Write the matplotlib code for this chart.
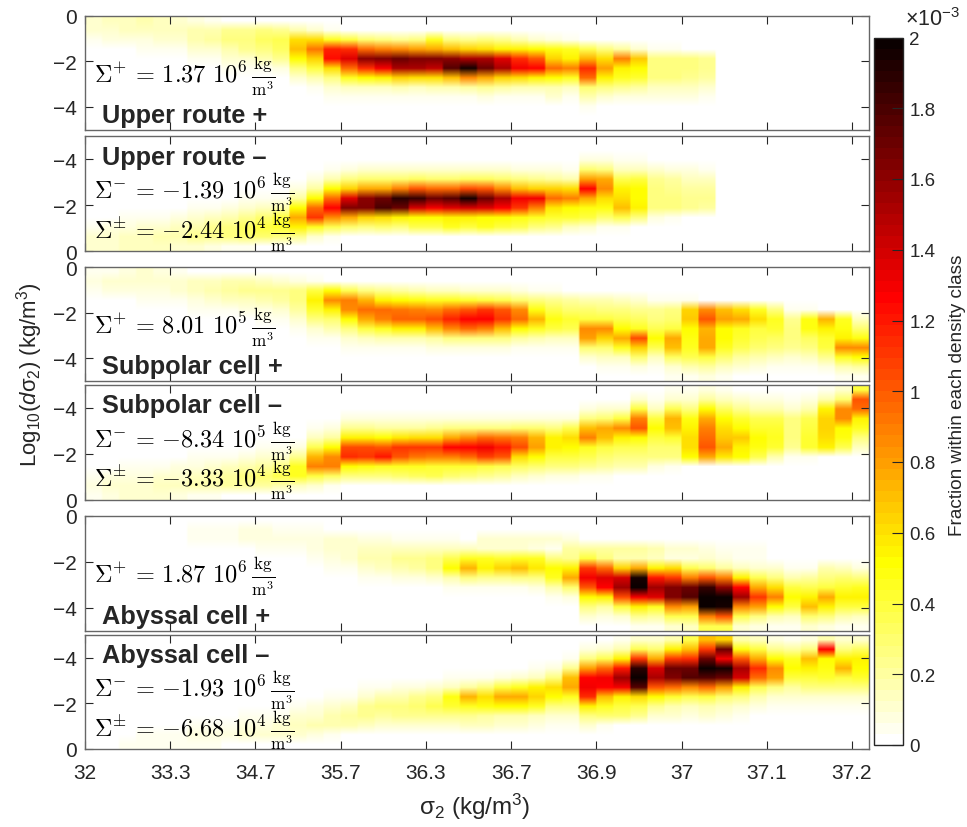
# -*- coding: utf-8 -*-
"""
Six stacked density-class histograms of d(sigma2) against sigma2
"""

import numpy as np
import matplotlib
matplotlib.use("Agg")
import matplotlib.pyplot as plt

# ===== 1. Data =====
# One list per density class (column), one number per Log10 bin from 0 down to -5,
# units of 1e-5. Short lists are zero for the remaining bins.
upper_plus = [
    [12,10,6,2,1], [14,12,7,3,1], [15,13,8,3,1], [16,14,9,4,2], [14,14,10,5,2], [10,14,12,6,3,1],
    [8,18,18,10,6,2], [5,18,20,12,6,2,1], [3,22,26,18,10,4,1], [2,22,28,22,12,5,2], [1,25,32,26,16,6,2],
    [1,22,36,32,22,8,3,1], [0,18,62,70,50,25,10,3,1], [0,10,60,92,65,40,16,6,2], [0,5,45,118,122,60,28,10,4,1],
    [0,3,40,115,135,95,45,14,5,1], [0,2,30,95,160,115,50,14,5,2], [0,1,25,90,165,130,55,15,5,2],
    [0,1,22,85,170,150,65,16,6,2], [0,0,25,80,165,150,60,14,5,2], [0,0,45,75,165,145,60,16,5,2],
    [0,0,25,70,160,175,70,18,6,2], [0,0,22,65,150,195,85,20,6,2], [0,0,25,60,150,170,75,22,7,2],
    [0,0,22,55,135,150,65,20,6,2], [0,0,18,55,115,130,60,18,6,2], [0,0,12,50,100,125,55,18,6,2],
    [0,0,8,48,65,95,50,18,12,2], [0,0,6,45,55,90,45,15,6,2], [0,0,3,35,72,115,95,30,18,4],
    [0,0,2,28,60,80,55,25,10,3,1], [0,0,1,20,88,55,45,22,8,3,1], [0,0,1,12,68,52,42,20,8,3,1],
    [0,0,0,5,28,28,25,15,8,3,1], [0,0,0,4,28,28,25,15,8,3,1], [0,0,0,3,25,25,22,14,7,2,1],
    [0,0,0,2,22,22,20,12,6,2,1], [0,0,0,0,2,3,3,2,1],
]
upper_minus = [
    [10,10,6,2], [12,12,7,3], [14,14,9,4,1], [15,15,10,5,2], [14,16,12,6,2], [12,18,14,8,3,1],
    [10,22,18,10,4,1], [8,24,22,14,6,2], [5,28,28,18,8,3,1], [4,30,32,22,10,4,1], [2,30,38,30,14,5,2],
    [1,28,42,38,18,6,2,1], [1,22,55,78,50,20,8,3,1], [0,12,45,110,95,50,20,8,3,1], [0,6,35,85,125,95,50,18,6,2],
    [0,3,30,75,165,135,65,25,8,3], [0,1,28,65,165,160,75,30,10,3], [0,1,30,60,180,170,75,30,10,3],
    [0,0,28,55,170,190,90,30,10,3], [0,0,35,52,140,185,100,32,10,3], [0,0,35,52,130,170,95,30,10,3],
    [0,0,45,55,135,175,95,30,10,3], [0,0,40,55,140,195,105,32,10,3], [0,0,45,52,135,170,100,32,10,3],
    [0,0,40,50,125,150,85,30,10,3], [0,0,35,48,110,130,70,25,8,2], [0,0,28,45,90,130,65,22,7,2],
    [0,0,22,42,58,95,65,20,7,2], [0,0,15,42,52,90,60,18,6,2], [0,0,10,40,48,75,125,80,30,8,2],
    [0,0,6,30,48,60,85,75,25,8,2], [0,0,4,35,70,60,55,35,15,5,1], [0,0,2,28,55,52,52,40,15,5,1],
    [0,0,0,8,28,28,28,22,10,3,1], [0,0,0,5,25,25,24,20,8,3,1], [0,0,0,3,22,22,20,15,7,2,1],
    [0,0,0,1,20,22,20,14,6,2], [0,0,0,0,2,3,3,2,1],
]
subpolar_plus = [
    [5,8,6,2], [6,10,7,3,1], [8,12,8,3,1], [10,12,9,4,1], [8,12,9,5,2], [6,12,10,5,2],
    [3,14,14,8,4,1], [2,15,16,10,5,2], [1,16,20,14,6,3,1], [1,16,22,15,8,3,1], [0,15,22,18,9,4,1],
    [0,12,22,20,12,5,2], [0,8,28,28,20,10,5,2], [0,5,40,55,42,25,10,4,1], [0,2,50,85,55,30,18,6,2],
    [0,2,35,90,85,50,25,10,4], [0,1,25,72,95,75,38,15,5], [0,0,22,55,95,90,45,16,5],
    [0,0,20,50,92,98,55,18,6], [0,0,18,48,90,98,55,18,6], [0,0,15,45,85,105,70,20,7],
    [0,0,15,45,95,118,85,25,8], [0,0,12,42,100,125,95,28,8], [0,0,10,38,112,125,88,26,7],
    [0,0,10,35,100,112,70,25,7], [0,0,8,30,85,95,50,20,6], [0,0,6,25,48,72,45,18,5],
    [0,0,4,22,35,48,38,15,4], [0,0,3,20,30,42,35,15,4], [0,0,3,18,30,40,85,80,30,12,3],
    [0,0,2,16,28,38,85,65,30,15,4], [0,0,1,14,26,35,50,78,45,15,4], [0,0,0,12,22,32,45,105,65,30,8,2],
    [0,0,0,6,22,28,35,50,35,15,5], [0,0,0,5,25,30,40,78,70,32,12,4], [0,0,0,4,65,68,52,48,45,35,18,6],
    [0,0,0,3,85,100,72,78,78,40,20,8], [0,0,0,2,70,80,50,50,45,30,15,5], [0,0,0,1,60,75,45,42,35,20,10,3],
    [0,0,0,0,45,60,40,35,30,18,8,2], [0,0,0,0,25,45,42,32,28,15,6,2], [0,0,0,0,5,22,25,25,22,12,5,1],
    [0,0,0,0,6,48,48,32,25,15,6,2], [0,0,0,0,3,72,55,42,40,22,8,3], [0,0,0,0,1,45,48,55,85,45,18,5],
    [0,0,0,0,0,15,30,48,85,50,20,6],
]
subpolar_minus = [
    [6,8,6,2], [8,10,7,3,1], [10,12,8,4,1], [10,12,9,5,2], [10,14,10,6,2], [8,14,12,7,3,1],
    [6,18,14,9,4,1], [4,18,18,11,5,2], [3,20,20,14,6,2,1], [2,20,25,16,8,3,1], [1,20,30,20,10,4,1],
    [1,18,35,25,12,4,2], [0,15,45,45,22,8,3,1], [0,10,40,88,72,35,14,5,2], [0,5,32,90,85,52,20,7,2],
    [0,3,28,50,115,105,55,22,7,2], [0,2,28,48,112,105,55,22,7,2], [0,1,28,45,120,100,52,20,7,2],
    [0,1,30,45,100,110,58,20,7,2], [0,0,32,45,92,110,60,20,7,2], [0,0,35,42,90,110,62,22,7,2],
    [0,0,30,42,88,125,75,25,8,2], [0,0,28,42,95,125,85,28,8,3], [0,0,22,38,108,130,95,28,8,2],
    [0,0,20,35,100,120,92,28,8,2], [0,0,15,32,60,105,90,30,8,2], [0,0,10,30,50,80,72,30,8,2],
    [0,0,8,28,40,55,55,28,8,2], [0,0,7,25,38,50,60,35,8,2], [0,0,6,22,35,45,88,70,28,8,2],
    [0,0,4,20,30,40,70,75,30,10,3], [0,0,2,18,28,35,55,85,40,12,3], [0,0,1,18,25,35,50,100,90,38,12,3],
    [0,0,0,8,25,30,40,50,38,15,6,2], [0,0,0,5,25,30,42,70,72,35,12,4], [0,0,0,3,50,60,60,55,48,28,12,4],
    [0,0,0,3,75,100,95,90,75,50,20,8], [0,0,0,2,58,75,68,62,50,32,14,5], [0,0,0,1,50,55,68,50,42,22,10,3],
    [0,0,0,0,35,48,50,42,35,18,7,2], [0,0,0,0,18,42,45,42,35,18,7,2], [0,0,0,0,6,22,25,25,25,12,5,1],
    [0,0,0,0,4,42,42,40,35,18,8,2], [0,0,0,0,3,55,62,65,65,55,18,5], [0,0,0,0,1,35,48,50,85,85,30,10],
    [0,0,0,0,0,15,28,45,55,95,100,40],
]
abyssal_plus = [
    [], [], [], [], [], [], [0,4,4,2], [0,5,5,2], [0,6,6,3,1], [0,7,7,3,1], [0,7,8,4,2],
    [0,6,8,5,2,1], [0,5,8,6,3,1], [0,4,9,7,4,2], [0,2,10,10,8,5,2], [0,1,10,12,10,6,3],
    [0,1,9,14,16,10,4,1], [0,1,8,15,18,14,6,2], [0,0,6,15,22,18,8,2], [0,0,5,14,24,20,8,2],
    [0,0,4,14,28,25,10,3], [0,0,4,14,35,50,18,4], [0,0,3,14,45,72,25,6], [0,0,12,12,45,55,22,6],
    [0,0,12,10,42,65,22,5], [0,0,12,10,45,70,25,6], [0,0,12,8,45,58,28,8,2], [0,0,12,5,28,50,45,18,6,2],
    [0,0,8,20,22,55,75,30,8,3], [0,0,3,20,40,110,130,100,50,25,10,3], [0,0,2,20,25,95,135,125,55,20,8,2],
    [0,0,1,20,18,65,140,155,105,40,12,3], [0,0,1,20,18,75,195,205,130,55,22,6], [0,0,0,18,15,55,120,155,135,45,20,6],
    [0,0,0,12,8,60,110,165,165,85,35,12], [0,0,0,10,8,35,90,170,175,80,35,14], [0,0,0,8,10,30,100,185,210,200,90,35],
    [0,0,0,6,8,20,90,160,205,195,100,35], [0,0,0,5,6,15,55,125,155,85,35,10], [0,0,0,4,5,12,35,75,110,80,25,8],
    [0,0,0,2,3,10,28,60,90,50,18,6], [0,0,0,1,2,5,18,38,50,40,15,4], [0,0,0,1,2,5,20,35,55,70,30,10],
    [0,0,0,1,3,18,25,38,78,55,25,8], [0,0,0,0,2,15,30,42,55,40,18,6], [0,0,0,0,0,8,25,45,55,38,15,5],
]
abyssal_minus = [
    [], [3,2], [4,3,1], [5,4,2], [5,5,2], [6,6,3,1], [5,7,4,2], [4,8,5,2], [3,8,6,3,1], [3,10,7,4,1],
    [2,10,8,5,2], [2,12,10,6,3,1], [1,10,14,10,5,2], [1,8,16,12,8,3,1], [1,5,18,16,10,4,1], [0,3,18,20,14,6,2],
    [0,2,15,22,22,12,4,1], [0,2,12,20,25,16,6,2], [0,1,12,22,28,18,8,2], [0,1,12,24,30,22,9,3], [0,1,12,24,35,25,10,3],
    [0,1,12,24,42,48,14,4], [0,0,15,24,45,72,20,5], [0,0,14,20,48,60,28,6], [0,0,12,18,50,75,40,8,2],
    [0,0,10,16,52,78,45,10,3], [0,0,8,14,45,65,55,15,4], [0,0,6,12,28,52,60,28,8,2], [0,0,4,10,25,45,75,70,22,6,2],
    [0,0,10,25,55,115,130,125,80,25,8,2], [0,0,5,30,45,70,125,130,95,35,10,3], [0,0,3,30,38,55,130,155,120,55,18,5],
    [0,0,3,22,35,60,175,205,190,110,35,10], [0,0,0,12,22,50,100,150,140,75,30,10], [0,0,0,10,18,42,95,165,170,110,55,18],
    [0,0,0,8,15,35,85,175,170,115,70,35], [0,0,0,12,18,40,95,175,210,170,110,70], [0,0,0,8,15,30,80,170,195,130,170,65],
    [0,0,0,6,12,25,55,140,150,100,48,18], [0,0,0,3,8,18,35,95,115,75,40,15], [0,0,0,2,6,12,28,80,85,50,22,8],
    [0,0,0,0,4,10,20,38,50,45,20,6], [0,0,0,0,4,12,25,38,55,70,28,8], [0,0,0,0,4,10,25,42,48,50,125,18],
    [0,0,0,0,5,12,28,40,72,55,25,10], [0,0,0,0,4,10,25,42,50,55,32,12],
]

panel_titles = ["Upper route +", "Upper route –", "Subpolar cell +",
                "Subpolar cell –", "Abyssal cell +", "Abyssal cell –"]
sigma_plus = [r"\Sigma^{+}\,=\,1.37\ 10^{6}", r"\Sigma^{-}\,=\,{-}1.39\ 10^{6}",
              r"\Sigma^{+}\,=\,8.01\ 10^{5}", r"\Sigma^{-}\,=\,{-}8.34\ 10^{5}",
              r"\Sigma^{+}\,=\,1.87\ 10^{6}", r"\Sigma^{-}\,=\,{-}1.93\ 10^{6}"]
sigma_both = [None, r"\Sigma^{\pm}\,=\,{-}2.44\ 10^{4}", None,
              r"\Sigma^{\pm}\,=\,{-}3.33\ 10^{4}", None, r"\Sigma^{\pm}\,=\,{-}6.68\ 10^{4}"]

x_tick_labels = ["32", "33.3", "34.7", "35.7", "36.3", "36.7", "36.9", "37", "37.1", "37.2"]
cbar_ticks = [0, 20, 40, 60, 80, 100, 120, 140, 160, 180, 200]
cbar_labels = ["0", "0.2", "0.4", "0.6", "0.8", "1", "1.2", "1.4", "1.6", "1.8", "2"]

# ===== 2. Figure style =====
W, H = 967, 828
GRAY = "#262626"
plt.rcParams.update({
    "font.family": "Liberation Sans",
    "font.size": 15,
    "mathtext.fontset": "custom",
    "mathtext.rm": "Liberation Sans",
    "mathtext.it": "Liberation Sans:italic",
    "mathtext.bf": "Liberation Sans:bold",
    "mathtext.default": "it",
    "text.color": GRAY,
    "xtick.color": GRAY,
    "ytick.color": GRAY,
})


def px_axes(left, top, right, bottom):
    return fig.add_axes([left / W, 1 - bottom / H, (right - left) / W, (bottom - top) / H])


def to_grid(cols):
    """Columns to a rows x columns array, padded with zero bins."""
    cols = cols + [[]] * (46 - len(cols))
    return np.array([c + [0] * (12 - len(c)) for c in cols], dtype=float).T


# ===== 3. Panels =====
fig = plt.figure(figsize=(W / 100, H / 100), dpi=100)
cmap = plt.get_cmap("hot_r", 64)

panel_data = [upper_plus, upper_minus, subpolar_plus, subpolar_minus, abyssal_plus, abyssal_minus]
panel_edges = [(16.7, 130.7), (137, 252), (268, 382), (386, 500.7), (516.7, 632), (636, 749.7)]
title_y = [116.5, 157.5, 367.5, 406.5, 617.5, 656.5]
sigma_y = [76.5, 192.5, 327.5, 441.5, 576.5, 690.5]
both_y = [None, 232.5, None, 480.5, None, 730.5]

for i, (cols, (top, bottom)) in enumerate(zip(panel_data, panel_edges)):
    ax = px_axes(85, top, 869, bottom)
    # repeat along x so that smoothing only acts between the Log10 bins
    im = ax.imshow(np.repeat(to_grid(cols), 8, axis=1), cmap=cmap, vmin=0, vmax=200, aspect="auto",
                   origin="upper", extent=(0, 46, -5, 0), interpolation="bilinear")
    ax.set_ylim((-5, 0) if i % 2 == 0 else (0, -5))
    ax.set_xlim(0, 46)
    ax.set_yticks([-4, -2, 0])
    ax.set_xticks(range(0, 46, 5))
    if i == 5:
        ax.set_xticklabels(x_tick_labels)
    else:
        ax.set_xticklabels([])
    ax.tick_params(direction="in", length=6, width=0.8, top=True, right=True, labelsize=15, pad=6)
    ax.tick_params(axis="x", pad=10)
    for spine in ax.spines.values():
        spine.set_color("#666666")
        spine.set_linewidth(1.0)

    fig.text(102 / W, 1 - title_y[i] / H, panel_titles[i], fontsize=18.3, fontweight="bold", va="center")
    frac = r"\,\frac{\mathrm{kg}}{\mathrm{m}^{3}}$"
    fig.text(94 / W, 1 - sigma_y[i] / H, "$" + sigma_plus[i] + frac, fontsize=17.5, va="center",
             color="black", math_fontfamily="cm")
    if sigma_both[i]:
        fig.text(94 / W, 1 - both_y[i] / H, "$" + sigma_both[i] + frac, fontsize=17.5, va="center",
                 color="black", math_fontfamily="cm")

# ===== 4. Colorbar and axis labels =====
cax = px_axes(873.5, 38.5, 902.5, 746)
cbar = fig.colorbar(im, cax=cax)
cbar.set_ticks(cbar_ticks)
cbar.set_ticklabels(cbar_labels)
cbar.ax.tick_params(direction="in", length=8, width=0.8, labelsize=13.5, pad=5)
cbar.outline.set_edgecolor(GRAY)
cbar.outline.set_linewidth(1.0)

fig.text(905 / W, 1 - 20 / H, "×10$^{-3}$", fontsize=15.5, va="center")
fig.text(957 / W, 1 - 395 / H, "Fraction within each density class", fontsize=13.7,
         rotation=90, ha="center", va="center")
fig.text(30 / W, 1 - 375 / H, r"Log$_{10}$($\mathit{d}$σ$_2$) (kg/m$^3$)", fontsize=16,
         rotation=90, ha="center", va="center")
fig.text(475 / W, 1 - 807 / H, "σ$_2$ (kg/m$^3$)", fontsize=17.5, ha="center", va="center")

fig.savefig("out.png", dpi=100)
